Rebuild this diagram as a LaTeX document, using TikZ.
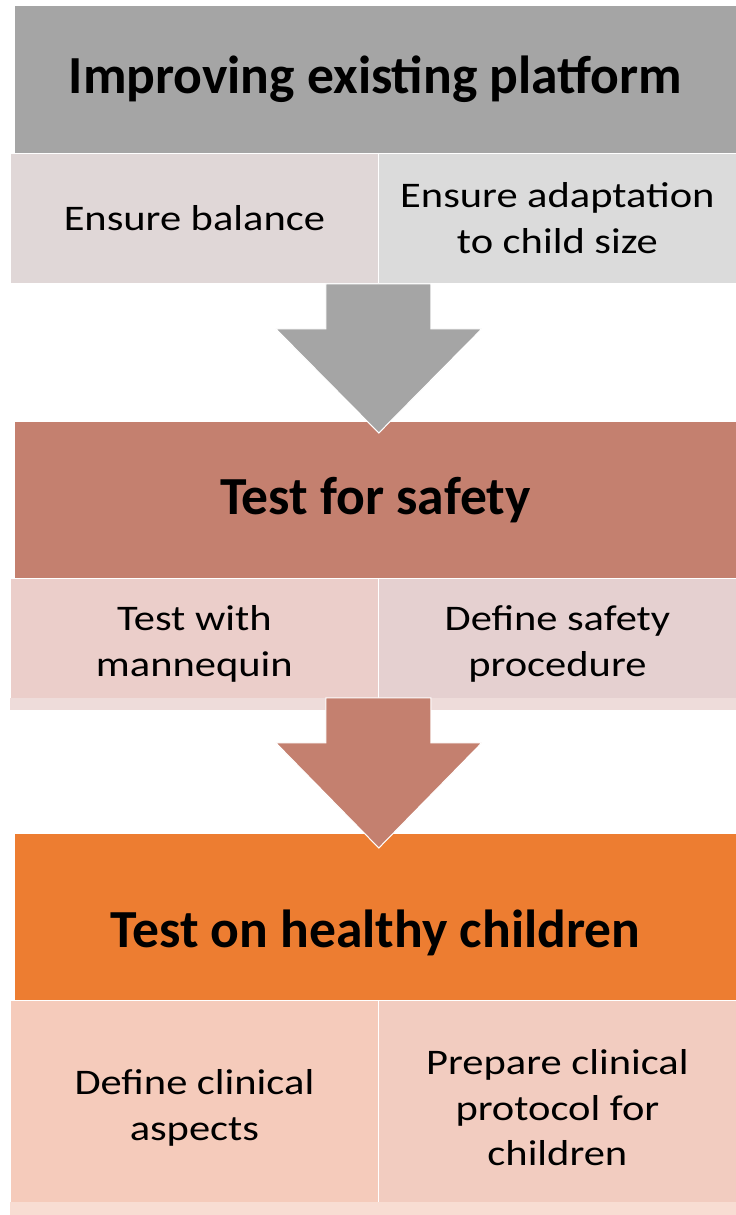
\documentclass[tikz,border=0pt]{standalone}
\usepackage{fontspec}
\setmainfont{Carlito}
\newfontfamily\subfont[FakeStretch=1.18]{Carlito}
\usetikzlibrary{calc, positioning}
\definecolor{platgray}{HTML}{A5A5A5}
\definecolor{balfill}{HTML}{E0D7D7}
\definecolor{adaptfill}{HTML}{DBDBDB}
\definecolor{safebrown}{HTML}{C4806F}
\definecolor{mannfill}{HTML}{EBCECA}
\definecolor{procfill}{HTML}{E5D0D0}
\definecolor{safeband}{HTML}{EEDCDA}
\definecolor{kidsorange}{HTML}{ED7D31}
\definecolor{aspfill}{HTML}{F5CBBB}
\definecolor{protofill}{HTML}{F2CCC0}
\definecolor{kidsband}{HTML}{F8DDD3}

\begin{document}
\begin{tikzpicture}[x=0.02cm, y=-0.02cm,
    head/.style={rectangle, draw=white, line width=0.5pt, anchor=north west, inner sep=0pt,
        minimum width=14.44cm, align=center, font=\fontsize{30.5}{36}\selectfont\bfseries},
    sub/.style={rectangle, draw=white, line width=0.5pt, anchor=north west, inner sep=0pt,
        align=center, font=\subfont\fontsize{20.5}{26}\selectfont},
    leftsub/.style={sub, minimum width=7.36cm},
    rightsub/.style={sub, minimum width=7.16cm},
    blockarrow/.style={draw=white, line width=0.6pt}]
\fill[white] (0,0) rectangle (736,1215);
\useasboundingbox (0,0) rectangle (736,1215);

\node[head, fill=platgray, minimum height=2.96cm] (plat) at (14,5) {Improving existing platform};
\node[leftsub, fill=balfill, minimum height=2.6cm] (bal) at (10,153) {Ensure balance};
\node[rightsub, fill=adaptfill, minimum height=2.6cm] (adapt) at (378,153) {Ensure adaptation\\to child size};

\node[head, fill=safebrown, minimum height=3.14cm] (safe) at (14,421) {Test for safety};
\node[leftsub, fill=mannfill, minimum height=2.62cm] (mann) at (10,578) {Test with\\mannequin};
\node[rightsub, fill=procfill, minimum height=2.62cm] (proc) at (378,578) {Define safety\\procedure};
\fill[safeband] (mann.south west) rectangle ($(proc.south east)+(0,-12)$);

\node[head, fill=kidsorange, minimum height=3.34cm] (kids) at (14,833) {};
\node[font=\fontsize{30.5}{36}\selectfont\bfseries] (kidstxt) at ($(kids.center)+(0,16)$) {Test on healthy children};
\node[leftsub, fill=aspfill, minimum height=4.3cm] (asp) at (10,1000) {Define clinical\\aspects};
\node[rightsub, fill=protofill, minimum height=4.3cm] (proto) at (378,1000) {Prepare clinical\\protocol for\\children};
\fill[kidsband] (asp.south west) rectangle ($(proto.south east)+(0,-14)$);

\draw[blockarrow, fill=platgray] ($(bal.south east)+(-53,0)$) -- ($(bal.south east)+(-53,45)$)
    -- ($(bal.south east)+(-103,45)$) -- ($(bal.south east |- safe.north)+(0,12)$)
    -- ($(bal.south east)+(103,45)$) -- ($(bal.south east)+(52,45)$)
    -- ($(bal.south east)+(52,0)$) -- cycle;
\draw[blockarrow, fill=safebrown] ($(mann.south east)+(-53,-12)$) -- ($(mann.south east)+(-53,33)$)
    -- ($(mann.south east)+(-103,33)$) -- ($(mann.south east |- kids.north)+(0,15)$)
    -- ($(mann.south east)+(103,33)$) -- ($(mann.south east)+(52,33)$)
    -- ($(mann.south east)+(52,-12)$) -- cycle;
\end{tikzpicture}
\end{document}
